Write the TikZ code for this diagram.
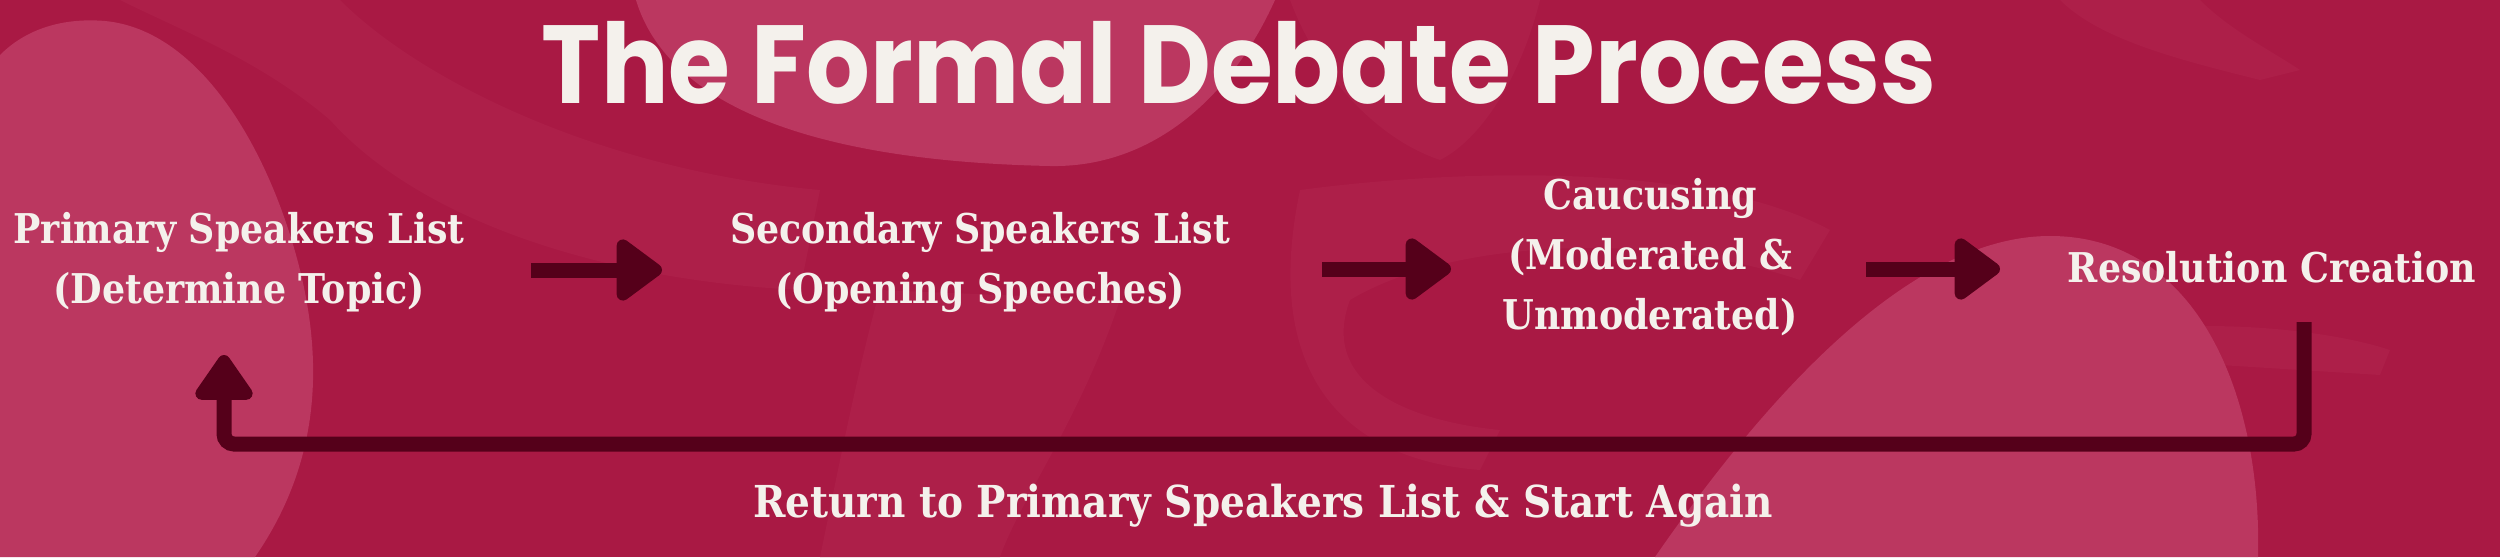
\documentclass[tikz,border=0pt]{standalone}
\usepackage{fontspec}
\usetikzlibrary{arrows.meta}
\newfontfamily\titlefont{Poppins}[FakeStretch=0.903]
\newfontfamily\bodyfont{DejaVu Serif}[FakeStretch=0.887]
\definecolor{bg}{HTML}{A91944}
\definecolor{blob}{HTML}{BB3760}
\definecolor{arrowc}{HTML}{55001A}
\definecolor{txt}{HTML}{F4F1EC}
\definecolor{brush}{HTML}{AD1F49}
\begin{document}
\begin{tikzpicture}[x=1pt,y=-1pt,
  lbl/.style={text=txt, font=\bodyfont\bfseries\fontsize{41}{60}\selectfont, align=center, inner sep=0pt},
  flow/.style={line width=15pt, draw=arrowc, -{Triangle[length=50pt,width=70pt,round]}},
  back/.style={line width=15pt, draw=arrowc, rounded corners=10pt, -{Triangle[length=50pt,width=65pt,round]}}]
\useasboundingbox (0,0) rectangle (2500,557);
\fill[bg] (0,0) rectangle (2500,557);
\begin{scope}
\clip (0,0) rectangle (2500,557);
% faint brush textures
\fill[brush] (120,0) -- (340,0) .. controls (420,80) and (600,170) .. (820,190) -- (800,290) .. controls (600,280) and (420,220) .. (330,120) .. controls (260,60) and (180,30) .. (120,0) -- cycle;
\fill[brush] (880,290) -- (1120,300) .. controls (1080,420) and (1020,500) .. (1000,557) -- (820,557) .. controls (840,460) and (860,360) .. (880,290) -- cycle;
\fill[brush] (1290,0) -- (1540,0) .. controls (1520,80) and (1480,140) .. (1440,160) .. controls (1380,140) and (1320,80) .. (1290,0) -- cycle;
\fill[brush] (1300,190) .. controls (1450,170) and (1700,160) .. (1830,230) -- (1800,280) .. controls (1650,230) and (1450,240) .. (1350,300) .. controls (1320,380) and (1400,420) .. (1500,430) -- (1480,470) .. controls (1350,460) and (1260,380) .. (1300,190) -- cycle;
\fill[brush] (2060,0) -- (2200,0) .. controls (2230,30) and (2270,50) .. (2300,70) -- (2260,80) .. controls (2180,60) and (2100,40) .. (2060,0) -- cycle;
\fill[brush] (2140,330) .. controls (2220,320) and (2330,330) .. (2390,350) -- (2380,375) .. controls (2300,370) and (2220,365) .. (2140,360) -- cycle;
% light blobs
\fill[blob] (0,55) .. controls (30,25) and (70,18) .. (105,21) .. controls (200,30) and (270,150) .. (300,270) .. controls (322,360) and (322,460) .. (255,557) -- (0,557) -- cycle;
\fill[blob] (636,0) .. controls (660,80) and (760,160) .. (1050,166) .. controls (1150,168) and (1230,100) .. (1275,0) -- cycle;
\fill[blob] (1655,557) .. controls (1750,420) and (1900,236) .. (2050,236) .. controls (2200,236) and (2262,400) .. (2258,557) -- cycle;
\end{scope}
\node[text=txt, font=\titlefont\bfseries\fontsize{111}{111}\selectfont, anchor=base, inner sep=0pt] (T) at (1239,103) {The Formal Debate Process};
\node[lbl, anchor=base] (P) at (239,303) {Primary Speakers List\\(Determine Topic)};
\node[lbl, anchor=base] (S) at (980,303) {Secondary Speakers List\\(Opening Speeches)};
\node[lbl, anchor=base] (C) at (1650,329) {Caucusing\\(Moderated \&\\Unmoderated)};
\node[lbl, anchor=base] (R) at (2272,282) {Resolution Creation};
\node[lbl, anchor=base, font=\bodyfont\bfseries\fontsize{44}{60}\selectfont] (B) at (1263,517) {Return to Primary Speakers List \& Start Again};
\coordinate (a1s) at (531,270); \coordinate (a1e) at (662,270);
\coordinate (a2s) at (1322,269); \coordinate (a2e) at (1451,269);
\coordinate (a3s) at (1866,269); \coordinate (a3e) at (2000,269);
\coordinate (r1) at (2304,322); \coordinate (l1) at (224,355);
\draw[flow] (a1s) -- (a1e);
\draw[flow] (a2s) -- (a2e);
\draw[flow] (a3s) -- (a3e);
\draw[back] (r1) -- ++(0,122) -| (l1);
\end{tikzpicture}
\end{document}
